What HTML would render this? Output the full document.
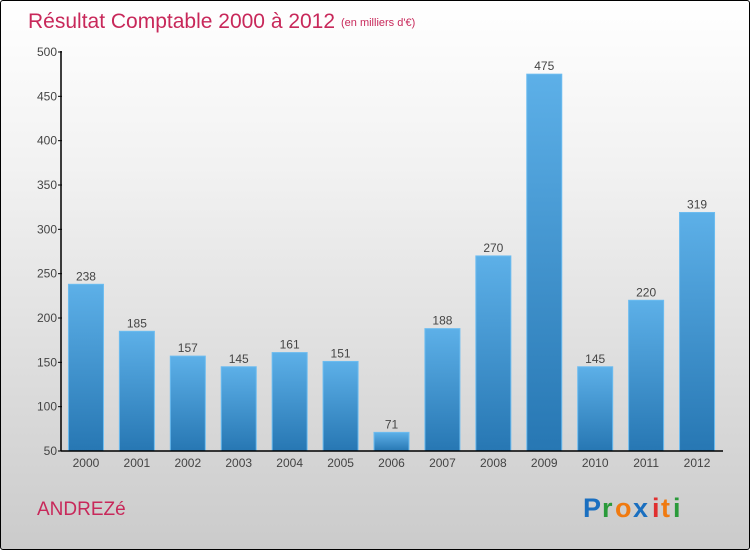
<!DOCTYPE html>
<html><head><meta charset="utf-8"><style>
html,body{margin:0;padding:0}
body{width:750px;height:550px;overflow:hidden;font-family:"Liberation Sans",sans-serif}
#wrap{position:relative;width:748px;height:548px;border:1px solid #000;border-radius:3px;background:linear-gradient(#fff 0%,#f2f2f2 30%,#cbcbcb 100%)}
svg{position:absolute;left:0;top:0}
</style></head><body>
<div id="wrap">
<svg id="chart" width="750" height="550">
<defs><linearGradient id="bg" x1="0" y1="0" x2="0" y2="1"><stop offset="0" stop-color="#5db0e8"/><stop offset="1" stop-color="#2777b3"/></linearGradient></defs>
<text x="27" y="27" font-size="21" fill="#c8285a">Résultat Comptable 2000 à 2012</text>
<text x="340" y="25" font-size="11" fill="#c8285a">(en milliers d'€)</text>
<text x="36" y="514" font-size="19" fill="#c8285a">ANDREZé</text>
<g font-size="27" font-weight="bold">
<text x="582" y="516" fill="#1a6fc0">P</text><text x="601" y="516" fill="#2a9a3a">r</text><text x="614" y="516" fill="#f07a10">o</text><text x="632" y="516" fill="#1a6fc0">x</text><text x="651" y="516" fill="#e03030">i</text><text x="660" y="516" fill="#f07a10">t</text><text x="672" y="516" fill="#2a9a3a">i</text>
</g>
</svg>
</div>
<script>
const years=["2000","2001","2002","2003","2004","2005","2006","2007","2008","2009","2010","2011","2012"];
const values=[238,185,157,145,161,151,71,188,270,475,145,220,319];
const yTicks=[50,100,150,200,250,300,350,400,450,500];
const svg=document.getElementById('chart');
const NS='http://www.w3.org/2000/svg';
const yMin=50,yMax=500,top0=51,bot=450,x0=60,x1=722;
const y=v=>bot-(v-yMin)/(yMax-yMin)*(bot-top0);
const step=(x1-x0)/years.length;
const xc=i=>x0+step*(i+0.5)-0.5;
function mk(t,a){const e=document.createElementNS(NS,t);for(const k in a)e.setAttribute(k,a[k]);svg.appendChild(e);return e;}
yTicks.forEach(t=>{
const tk=mk('line',{x1:x0-3,x2:x0+1,y1:y(t),y2:y(t),stroke:'#000'});


const l=mk('text',{x:x0-4,y:y(t)+4,'font-size':12,'text-anchor':'end',fill:'#444'});
l.textContent=t;


});
values.forEach((v,i)=>{
const w=35;
const b=mk('rect',{x:xc(i)-w/2,y:y(v),width:w,height:bot-y(v),fill:'url(#bg)',stroke:'#6cbcf0','stroke-width':1});


const t=mk('text',{x:xc(i),y:y(v)-4,'font-size':12,'text-anchor':'middle',fill:'#444'});
t.textContent=v;


const xl=mk('text',{x:xc(i),y:bot+16,'font-size':12,'text-anchor':'middle',fill:'#444'});
xl.textContent=years[i];


});
const ya=mk('line',{x1:x0,x2:x0,y1:top0-1,y2:bot,stroke:'#000','stroke-width':1.5});


const xa=mk('line',{x1:x0,x2:x1,y1:bot,y2:bot,stroke:'#000','stroke-width':1.5});


</script>
</body></html>
